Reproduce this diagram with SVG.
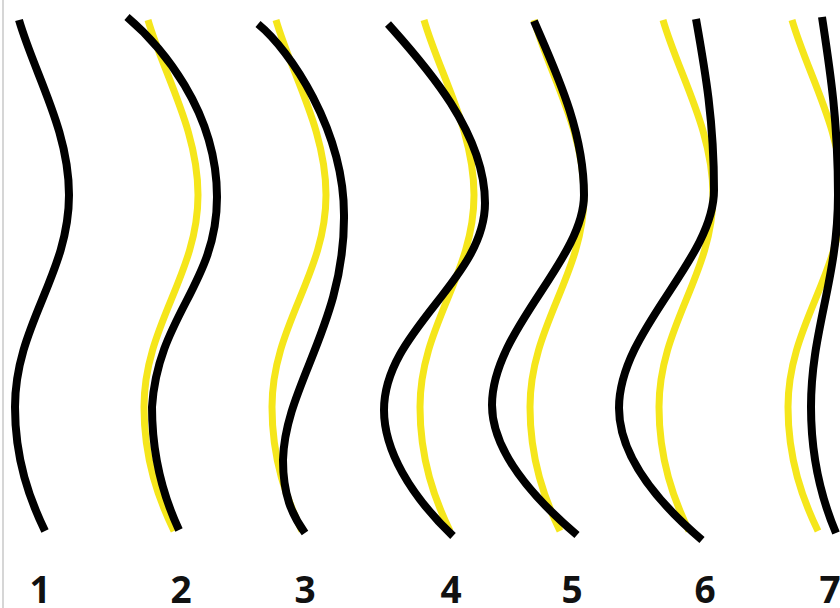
<svg xmlns="http://www.w3.org/2000/svg" xmlns:xlink="http://www.w3.org/1999/xlink" width="840" height="608" viewBox="0 0 840 608">
<style>
.k{fill:none;stroke:#000;stroke-width:8;stroke-linecap:butt}
.y{fill:none;stroke:#f5e61b;stroke-width:7;stroke-linecap:butt}
.lbl{font-family:"Open Sans","Liberation Sans",sans-serif;font-weight:bold;font-size:37px;fill:#111;text-anchor:middle}
</style>
<defs>
<path id="base" d="M19,20 C35,75 69,130 69,195 C69,275 15,325 15,407 C15,460 30,500 45,531"/>
</defs>
<rect width="840" height="608" fill="#fff"/>
<rect x="2" y="0" width="2" height="608" fill="#d6d6d6"/>
<g id="yellow">
<use xlink:href="#base" href="#base" class="y" transform="translate(129,0)"/>
<use xlink:href="#base" href="#base" class="y" transform="translate(257,0)"/>
<use xlink:href="#base" href="#base" class="y" transform="translate(405,0)"/>
<use xlink:href="#base" href="#base" class="y" transform="translate(515,0)"/>
<use xlink:href="#base" href="#base" class="y" transform="translate(644,0)"/>
<use xlink:href="#base" href="#base" class="y" transform="translate(773,0)"/>
</g>
<g id="black">
<use xlink:href="#base" href="#base" class="k"/>
<path class="k" d="M127,17 C160,45 217,110 217,197 C217,285 158,315 152,407 C152,460 165,500 179,530"/>
<path class="k" d="M258,24 C290,50 344,130 344,215 C345,325 285,385 283,460 C283,495 292,515 305,533"/>
<path class="k" d="M388,24 C420,60 485,130 485,203 C485,280 384,330 384,410 C384,450 410,495 453,536"/>
<path class="k" d="M534,21 C555,70 584,130 584,195 C584,260 492,330 492,405 C492,450 530,495 577,535"/>
<path class="k" d="M696,19 C705,70 714,120 714,190 C714,260 619,330 619,408 C619,455 655,500 702,540"/>
<path class="k" d="M822,17 C830,70 838,120 838,195 C838,280 811,330 811,407 C811,460 822,500 836,533"/>
</g>
<g id="labels">
<text class="lbl" x="40" y="603">1</text>
<text class="lbl" x="181" y="603">2</text>
<text class="lbl" x="305" y="603">3</text>
<text class="lbl" x="451" y="603">4</text>
<text class="lbl" x="572" y="603">5</text>
<text class="lbl" x="705" y="603">6</text>
<text class="lbl" x="830" y="603">7</text>
</g>
</svg>
